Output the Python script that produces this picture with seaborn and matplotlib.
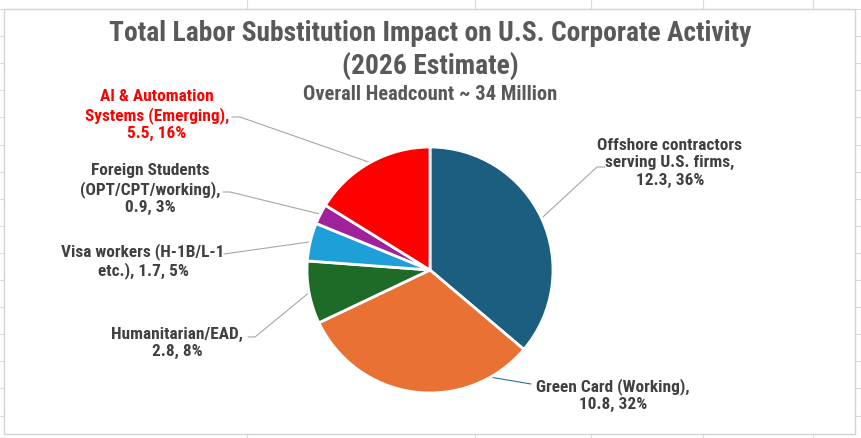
import numpy as np
import matplotlib
matplotlib.use("Agg")
from matplotlib import pyplot as plt
from matplotlib.patches import Rectangle
import seaborn as sns

# data
categories = ["Offshore contractors\nserving U.S. firms",
              "Green Card (Working)",
              "Humanitarian/EAD",
              "Visa workers (H-1B/L-1\netc.)",
              "Foreign Students\n(OPT/CPT/working)",
              "AI & Automation\nSystems (Emerging)"]
headcount = [12.3, 10.8, 2.8, 1.7, 0.9, 5.5]
slice_colors = ["#1B5E80", "#E87133", "#1E6B27", "#1E9FD8", "#A0229A", "#FF0000"]
label_colors = ["#404040", "#404040", "#404040", "#404040", "#404040", "#FF0000"]
leader_colors = ["#A6A6A6", "#2F6E93", "#A6A6A6", "#A6A6A6", "#A6A6A6", "#A6A6A6"]
label_text = ["Offshore contractors\nserving U.S. firms,\n12.3, 36%",
              "Green Card (Working),\n10.8, 32%",
              "Humanitarian/EAD,\n2.8, 8%",
              "Visa workers (H-1B/L-1\netc.), 1.7, 5%",
              "Foreign Students\n(OPT/CPT/working),\n0.9, 3%",
              "AI & Automation\nSystems (Emerging),\n5.5, 16%"]

sns.set_theme(style="white")
plt.rcParams["font.family"] = ["Roboto Condensed", "Barlow Semi Condensed", "DejaVu Sans"]

W, H = 862, 439
fig = plt.figure(figsize=(W / 100, H / 100), dpi=100)
ax = fig.add_axes([0, 0, 1, 1])

def Y(y):
    return H - y

# spreadsheet grid behind the chart
grid_c = "#DADADA"
for gx in [247, 475, 591, 703, 813]:
    ax.plot([gx, gx], [0, H], color=grid_c, lw=0.8, zorder=0)
for gy in np.arange(10, H, 27.1):
    ax.plot([0, W], [Y(gy), Y(gy)], color=grid_c, lw=0.8, zorder=0)
ax.add_patch(Rectangle((4, Y(435)), 851, 425, facecolor="white",
                       edgecolor="#D4D4D4", lw=1.0, zorder=1))

cx, cy, r = 430, 271, 123
wedges, _ = ax.pie(headcount, colors=slice_colors, startangle=90, counterclock=False,
                   center=(cx, Y(cy)), radius=r,
                   wedgeprops=dict(edgecolor="white", linewidth=2.0))
for w in wedges:
    w.set_zorder(3)

# label layout: text centre, leader start points, attach fraction within wedge
text_pos = [(670, 163), (613, 395), (177, 343), (143, 261), (150, 189), (157, 115)]
leader_pts = [[(605, 168), (597, 168)],
              [(531, 385)],
              [(248, 338), (255, 338)],
              [(224, 255)],
              [(223, 193), (230, 193)],
              [(232, 118), (240, 118)]]
attach = [0.5, 0.14, 0.5, 0.5, 0.5, 0.5]

for i, w in enumerate(wedges):
    a = np.deg2rad(w.theta1 + (w.theta2 - w.theta1) * attach[i])
    px, py = cx + r * np.cos(a), Y(cy) + r * np.sin(a)
    xs = [p[0] for p in leader_pts[i]] + [px]
    ys = [Y(p[1]) for p in leader_pts[i]] + [py]
    ax.plot(xs, ys, color=leader_colors[i], lw=0.8, zorder=2)
    tx, ty = text_pos[i]
    ax.text(tx, Y(ty), label_text[i], ha="center", va="center", multialignment="center",
            fontsize=12.4, fontweight="bold", color=label_colors[i], linespacing=1.2,
            zorder=4)

ax.text(430, Y(33), "Total Labor Substitution Impact on U.S. Corporate Activity",
        ha="center", va="center", fontsize=19.8, fontweight="bold", color="#595959", zorder=4)
ax.text(430, Y(66), "(2026 Estimate)", ha="center", va="center", fontsize=19.8,
        fontweight="bold", color="#595959", zorder=4)
ax.text(430, Y(94), "Overall Headcount ~ 34 Million", ha="center", va="center",
        fontsize=14.8, fontweight="bold", color="#595959", zorder=4)

ax.set_xlim(0, W)
ax.set_ylim(0, H)
ax.set_aspect("equal")
ax.set_axis_off()
fig.savefig("out.png", dpi=100)
